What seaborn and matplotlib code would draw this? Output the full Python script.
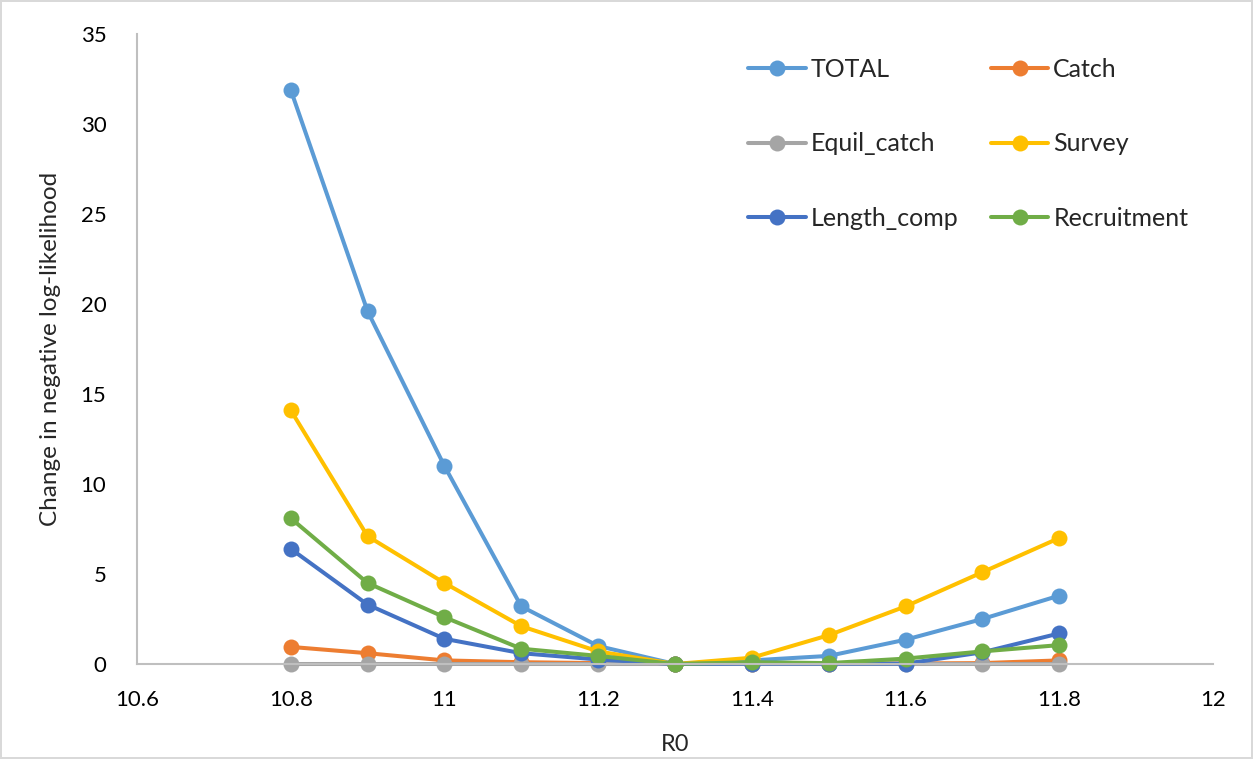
import matplotlib
matplotlib.use("Agg")
import matplotlib.pyplot as plt
import seaborn as sns
import pandas as pd

r0 = [10.8, 10.9, 11.0, 11.1, 11.2, 11.3, 11.4, 11.5, 11.6, 11.7, 11.8]
total = [31.9, 19.6, 11.0, 3.2, 1.0, 0.0, 0.2, 0.45, 1.35, 2.5, 3.8]
catch = [0.95, 0.6, 0.2, 0.1, 0.05, 0.0, 0.01, 0.02, 0.03, 0.05, 0.2]
equil_catch = [0.0, 0.0, 0.0, 0.0, 0.0, 0.0, 0.0, 0.0, 0.0, 0.0, 0.0]
survey = [14.1, 7.1, 4.5, 2.1, 0.7, 0.0, 0.35, 1.6, 3.2, 5.1, 7.0]
length_comp = [6.4, 3.3, 1.4, 0.6, 0.25, 0.0, 0.02, 0.02, 0.02, 0.65, 1.7]
recruitment = [8.1, 4.5, 2.6, 0.85, 0.45, 0.0, 0.1, 0.05, 0.3, 0.7, 1.05]

series_names = ["TOTAL", "Catch", "Equil_catch", "Survey", "Length_comp", "Recruitment"]
series_vals = [total, catch, equil_catch, survey, length_comp, recruitment]
colors = ["#5B9BD5", "#ED7D31", "#A5A5A5", "#FFC000", "#4472C4", "#70AD47"]

rows = []
for name, vals in zip(series_names, series_vals):
    for x, y in zip(r0, vals):
        rows.append({"R0": x, "value": y, "component": name})
df = pd.DataFrame(rows)

sns.set_style("white")
plt.rcParams['font.family'] = ['Lato', 'DejaVu Sans']

fig = plt.figure(figsize=(12.53, 7.59), dpi=100)
fig.patch.set_edgecolor("#D9D9D9")
fig.patch.set_linewidth(1.5)
ax = fig.add_axes([137/1253, 1 - 664/759, (1213-137)/1253, (664-34)/759])

sns.lineplot(data=df, x="R0", y="value", hue="component", hue_order=series_names,
             palette=colors, marker="o", markersize=11.5, markeredgewidth=0,
             linewidth=2.9, ax=ax, legend=True, clip_on=False)

ax.set_xlim(10.6, 12)
ax.set_ylim(0, 35)
ax.set_xticks([10.6, 10.8, 11.0, 11.2, 11.4, 11.6, 11.8, 12.0])
ax.set_xticklabels(["10.6", "10.8", "11", "11.2", "11.4", "11.6", "11.8", "12"])
ax.set_yticks([0, 5, 10, 15, 20, 25, 30, 35])
ax.tick_params(axis="both", length=0, labelsize=16, colors="black")
ax.tick_params(axis="x", pad=19)
ax.tick_params(axis="y", pad=22)
for s in ["top", "right"]:
    ax.spines[s].set_visible(False)
for s in ["left", "bottom"]:
    ax.spines[s].set_color("#BFBFBF")
    ax.spines[s].set_linewidth(1.5)
ax.set_xlabel("R0", fontsize=17, labelpad=17)
ax.set_ylabel("Change in negative log-likelihood", fontsize=17.5, labelpad=14)

handles, labels = ax.get_legend_handles_labels()
order = [0, 2, 4, 1, 3, 5]
ax.legend([handles[i] for i in order], [labels[i] for i in order], ncol=2,
          loc="upper left", bbox_to_anchor=(748/1253, 1 - 58/759),
          bbox_transform=fig.transFigure, borderpad=0, borderaxespad=0,
          frameon=False, fontsize=18, labelspacing=2.05, columnspacing=1.3,
          handlelength=2.3, handletextpad=0.2)

fig.savefig("out.png", dpi=100)
